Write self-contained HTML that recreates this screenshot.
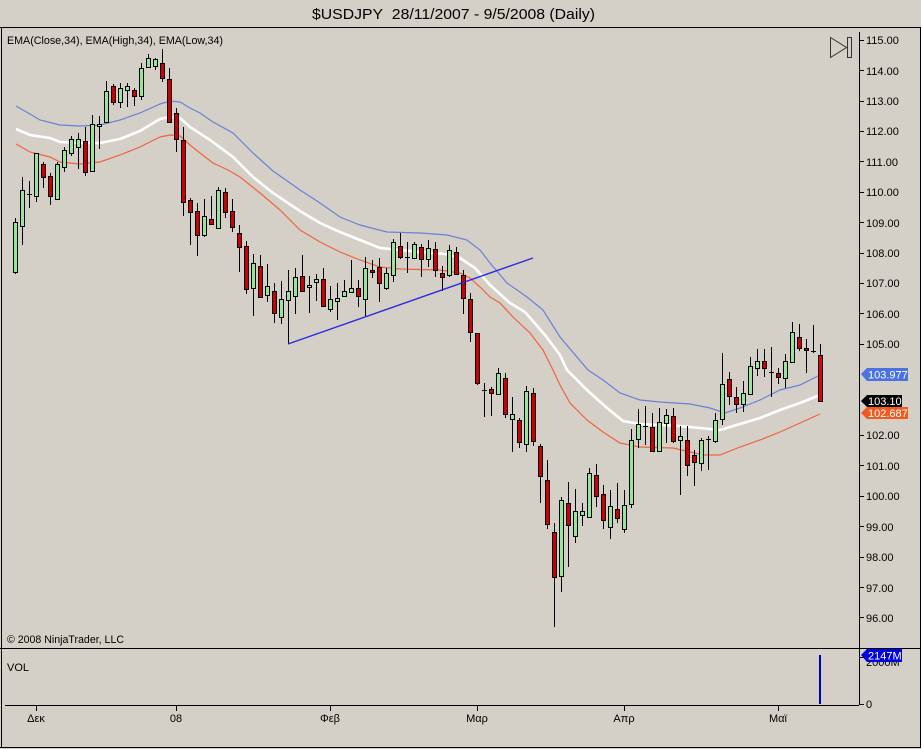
<!DOCTYPE html>
<html><head><meta charset="utf-8"><style>
html,body{margin:0;padding:0;background:#d4d0c8;}
svg{display:block;}
text{font-family:"Liberation Sans",Arial,sans-serif;}
</style></head><body>
<svg width="921" height="749" viewBox="0 0 921 749" xmlns="http://www.w3.org/2000/svg">
<rect x="0" y="0" width="921" height="749" fill="#d4d0c8"/>
<text x="312" y="19" font-size="15" fill="#000" textLength="283" lengthAdjust="spacingAndGlyphs">$USDJPY&#160;&#160;28/11/2007 - 9/5/2008 (Daily)</text>
<path d="M0 27.5H921M1.5 27V748M0 747.5H921M920.5 27V748M0 648.5H921" stroke="#000" stroke-width="1" fill="none"/>
<text x="7" y="44" font-size="11" fill="#000" textLength="216" lengthAdjust="spacingAndGlyphs">EMA(Close,34), EMA(High,34), EMA(Low,34)</text>
<text x="7" y="643" font-size="11" fill="#000" textLength="117" lengthAdjust="spacingAndGlyphs">© 2008 NinjaTrader, LLC</text>
<text x="7" y="671" font-size="11" fill="#000">VOL</text>
<path d="M830.5 37.5L846.5 47.5L830.5 57.5Z" fill="none" stroke="#333" stroke-width="1"/>
<rect x="847.5" y="37.5" width="4" height="20" fill="none" stroke="#333" stroke-width="1"/>
<path d="M859.5 32V705" stroke="#000" stroke-width="1"/>
<path stroke="#000" stroke-width="1" d="M859 40.5h5M859 70.5h5M859 101.5h5M859 131.5h5M859 161.5h5M859 192.5h5M859 222.5h5M859 253.5h5M859 283.5h5M859 313.5h5M859 344.5h5M859 435.5h5M859 465.5h5M859 496.5h5M859 526.5h5M859 557.5h5M859 587.5h5M859 617.5h5M859 704.5h5M859 657.5h5"/>
<g font-size="11" fill="#000">
<text x="866" y="44">115.00</text>
<text x="866" y="75">114.00</text>
<text x="866" y="105">113.00</text>
<text x="866" y="135">112.00</text>
<text x="866" y="166">111.00</text>
<text x="866" y="196">110.00</text>
<text x="866" y="227">109.00</text>
<text x="866" y="257">108.00</text>
<text x="866" y="287">107.00</text>
<text x="866" y="318">106.00</text>
<text x="866" y="348">105.00</text>
<text x="866" y="439">102.00</text>
<text x="866" y="470">101.00</text>
<text x="866" y="500">100.00</text>
<text x="866" y="531">99.00</text>
<text x="866" y="561">98.00</text>
<text x="866" y="592">97.00</text>
<text x="866" y="622">96.00</text>
<text x="866" y="708">0</text>
<text x="866" y="666">2000M</text>
</g>
<path d="M5 705.5H859M36.5 705V711M176.5 705V711M330.5 705V711M477.5 705V711M624.5 705V711M778.5 705V711" stroke="#000" stroke-width="1"/>
<g font-size="11" fill="#000" text-anchor="middle">
<text x="36" y="722">Δεκ</text>
<text x="176" y="722">08</text>
<text x="330" y="722">Φεβ</text>
<text x="477" y="722">Μαρ</text>
<text x="624" y="722">Απρ</text>
<text x="778" y="722">Μαϊ</text>
</g>
<rect x="819" y="655" width="2" height="49" fill="#0000c0"/>
<polyline fill="none" stroke="#6a80d8" stroke-width="1.2" points="16,106 30,114 40,120 60,125 80,126 100,125 120,120 140,113 160,104 170,101 180,102 190,108 200,113 213,122 233,133 253,153 273,171 300,190 320,203 340,217 360,225 387,232 420,233 447,235 467,240 480,250 490,263 507,283 527,297 543,310 560,337 588,370 603,380 620,393 640,400 660,402 690,404 710,408 725,413 740,408 760,400 780,390 800,385 820,375"/>
<polyline fill="none" stroke="#ffffff" stroke-width="2.6" points="16,129 30,135 50,138 60,142 80,143 100,143 120,139 140,131 160,119 170,117 180,118 190,127 210,140 233,157 253,177 273,193 300,211 320,223 340,232 360,240 380,248 420,252 445,254 460,258 475,268 490,285 510,303 525,312 545,335 560,355 567,370 587,390 607,408 623,421 640,424 680,426 710,429 720,430 740,424 760,418 780,410 800,403 820,395"/>
<polyline fill="none" stroke="#f0643c" stroke-width="1.2" points="16,144 30,152 50,157 60,162 80,164 100,162 120,155 140,147 160,137 170,135 180,136 190,145 200,153 213,163 228,170 240,177 260,193 280,210 300,230 320,242 340,252 360,260 380,267 400,269 440,270 460,273 470,278 480,287 490,297 500,303 513,317 530,333 543,350 553,370 560,385 570,403 587,420 603,432 620,443 640,447 673,448 703,455 720,455 740,447 760,440 780,432 800,423 820,414"/>
<path stroke="#000" stroke-width="1" fill="none" d="M15.5 218V274M22.5 177V245M29.5 181V208M36.5 153V202M43.5 162V188M50.5 173V205M57.5 162V199M64.5 147V172M71.5 136V156M78.5 133V169M85.5 127V176M92.5 115V171M99.5 116V149M106.5 81V122M113.5 84V105M120.5 83V108M127.5 83V107M134.5 88V106M141.5 63V100M148.5 54V67M155.5 58V70M162.5 49V82M169.5 68V122M176.5 108V152M183.5 127V216M190.5 198V245M197.5 203V256M204.5 199V237M211.5 196V224M218.5 187V228M225.5 188V218M232.5 199V232M239.5 225V272M246.5 241V294M253.5 254V316M260.5 255V297M267.5 264V302M274.5 283V323M281.5 281V324M288.5 270V344M295.5 268V314M302.5 255V291M309.5 276V313M316.5 274V301M323.5 268V306M330.5 286V312M337.5 283V320M344.5 280V297M351.5 260V293M358.5 280V307M365.5 257V316M372.5 260V278M379.5 258V302M386.5 268V290M393.5 239V282M400.5 233V259M407.5 242V273M414.5 242V259M421.5 244V277M428.5 240V267M435.5 242V277M442.5 266V291M449.5 245V277M456.5 247V275M463.5 270V314M470.5 293V342M477.5 333V385M484.5 383V417M491.5 387V416M498.5 368V394M505.5 373V418M512.5 397V452M519.5 418V448M526.5 386V452M533.5 388V446M540.5 444V503M547.5 460V529M554.5 523V627M561.5 497V592M568.5 482V567M575.5 489V543M582.5 503V526M589.5 468V517M596.5 464V507M603.5 485V529M610.5 490V539M617.5 483V523M624.5 490V533M631.5 429V508M638.5 409V448M645.5 406V445M652.5 413V451M659.5 408V451M666.5 409V443M673.5 408V443M680.5 426V495M687.5 426V476M694.5 450V486M701.5 438V471M708.5 436V470M715.5 413V443M722.5 353V425M729.5 372V405M736.5 387V413M743.5 381V412M750.5 357V395M757.5 349V376M764.5 349V377M771.5 347V397M778.5 368V384M785.5 354V388M792.5 322V363M799.5 324V351M806.5 339V373M813.5 325V353M820.5 344V401"/>
<path stroke="#000" stroke-width="1" fill="none" d="M27 194.5h5M405 257.5h5M482 390.5h5M643 426.5h5M706 439.5h5M769 372.5h5M811 351.5h5"/>
<g fill="#96e696" stroke="#000" stroke-width="1">
<rect x="13.5" y="222.5" width="4" height="50"/>
<rect x="20.5" y="190.5" width="4" height="36"/>
<rect x="34.5" y="153.5" width="4" height="43"/>
<rect x="55.5" y="164.5" width="4" height="35"/>
<rect x="62.5" y="150.5" width="4" height="17"/>
<rect x="69.5" y="139.5" width="4" height="14"/>
<rect x="76.5" y="139.5" width="4" height="8"/>
<rect x="90.5" y="124.5" width="4" height="47"/>
<rect x="97.5" y="124.5" width="4" height="2"/>
<rect x="104.5" y="91.5" width="4" height="31"/>
<rect x="118.5" y="88.5" width="4" height="14"/>
<rect x="125.5" y="86.5" width="4" height="4"/>
<rect x="139.5" y="68.5" width="4" height="28"/>
<rect x="146.5" y="58.5" width="4" height="9"/>
<rect x="153.5" y="59.5" width="4" height="7"/>
<rect x="202.5" y="216.5" width="4" height="19"/>
<rect x="216.5" y="190.5" width="4" height="38"/>
<rect x="251.5" y="263.5" width="4" height="25"/>
<rect x="265.5" y="286.5" width="4" height="9"/>
<rect x="279.5" y="299.5" width="4" height="18"/>
<rect x="286.5" y="291.5" width="4" height="9"/>
<rect x="293.5" y="277.5" width="4" height="19"/>
<rect x="307.5" y="285.5" width="4" height="2"/>
<rect x="314.5" y="279.5" width="4" height="3"/>
<rect x="328.5" y="299.5" width="4" height="10"/>
<rect x="335.5" y="298.5" width="4" height="3"/>
<rect x="342.5" y="291.5" width="4" height="5"/>
<rect x="349.5" y="288.5" width="4" height="4"/>
<rect x="363.5" y="268.5" width="4" height="31"/>
<rect x="384.5" y="273.5" width="4" height="15"/>
<rect x="391.5" y="242.5" width="4" height="33"/>
<rect x="412.5" y="244.5" width="4" height="14"/>
<rect x="426.5" y="248.5" width="4" height="11"/>
<rect x="447.5" y="250.5" width="4" height="25"/>
<rect x="496.5" y="373.5" width="4" height="21"/>
<rect x="510.5" y="414.5" width="4" height="5"/>
<rect x="524.5" y="391.5" width="4" height="53"/>
<rect x="559.5" y="500.5" width="4" height="76"/>
<rect x="573.5" y="511.5" width="4" height="25"/>
<rect x="580.5" y="511.5" width="4" height="4"/>
<rect x="587.5" y="473.5" width="4" height="44"/>
<rect x="608.5" y="506.5" width="4" height="21"/>
<rect x="622.5" y="505.5" width="4" height="24"/>
<rect x="629.5" y="440.5" width="4" height="64"/>
<rect x="636.5" y="424.5" width="4" height="15"/>
<rect x="657.5" y="422.5" width="4" height="29"/>
<rect x="664.5" y="415.5" width="4" height="8"/>
<rect x="678.5" y="436.5" width="4" height="4"/>
<rect x="699.5" y="440.5" width="4" height="23"/>
<rect x="713.5" y="420.5" width="4" height="21"/>
<rect x="720.5" y="384.5" width="4" height="35"/>
<rect x="741.5" y="393.5" width="4" height="11"/>
<rect x="748.5" y="366.5" width="4" height="28"/>
<rect x="755.5" y="361.5" width="4" height="7"/>
<rect x="783.5" y="361.5" width="4" height="17"/>
<rect x="790.5" y="332.5" width="4" height="30"/>
</g>
<g fill="#cc0000" stroke="#000" stroke-width="1">
<rect x="41.5" y="164.5" width="4" height="13"/>
<rect x="48.5" y="176.5" width="4" height="20"/>
<rect x="83.5" y="141.5" width="4" height="31"/>
<rect x="111.5" y="86.5" width="4" height="16"/>
<rect x="132.5" y="90.5" width="4" height="6"/>
<rect x="160.5" y="63.5" width="4" height="15"/>
<rect x="167.5" y="79.5" width="4" height="43"/>
<rect x="174.5" y="113.5" width="4" height="26"/>
<rect x="181.5" y="140.5" width="4" height="62"/>
<rect x="188.5" y="200.5" width="4" height="12"/>
<rect x="195.5" y="211.5" width="4" height="24"/>
<rect x="209.5" y="219.5" width="4" height="5"/>
<rect x="223.5" y="192.5" width="4" height="20"/>
<rect x="230.5" y="211.5" width="4" height="16"/>
<rect x="237.5" y="233.5" width="4" height="14"/>
<rect x="244.5" y="246.5" width="4" height="43"/>
<rect x="258.5" y="266.5" width="4" height="31"/>
<rect x="272.5" y="291.5" width="4" height="22"/>
<rect x="300.5" y="276.5" width="4" height="15"/>
<rect x="321.5" y="279.5" width="4" height="27"/>
<rect x="356.5" y="288.5" width="4" height="8"/>
<rect x="370.5" y="270.5" width="4" height="2"/>
<rect x="377.5" y="267.5" width="4" height="16"/>
<rect x="398.5" y="246.5" width="4" height="11"/>
<rect x="419.5" y="247.5" width="4" height="12"/>
<rect x="433.5" y="249.5" width="4" height="21"/>
<rect x="440.5" y="273.5" width="4" height="4"/>
<rect x="454.5" y="252.5" width="4" height="22"/>
<rect x="461.5" y="275.5" width="4" height="23"/>
<rect x="468.5" y="299.5" width="4" height="33"/>
<rect x="475.5" y="333.5" width="4" height="50"/>
<rect x="489.5" y="389.5" width="4" height="4"/>
<rect x="503.5" y="378.5" width="4" height="36"/>
<rect x="517.5" y="420.5" width="4" height="22"/>
<rect x="531.5" y="393.5" width="4" height="48"/>
<rect x="538.5" y="446.5" width="4" height="30"/>
<rect x="545.5" y="480.5" width="4" height="44"/>
<rect x="552.5" y="532.5" width="4" height="45"/>
<rect x="566.5" y="503.5" width="4" height="22"/>
<rect x="594.5" y="475.5" width="4" height="21"/>
<rect x="601.5" y="494.5" width="4" height="26"/>
<rect x="615.5" y="509.5" width="4" height="9"/>
<rect x="650.5" y="427.5" width="4" height="24"/>
<rect x="671.5" y="416.5" width="4" height="25"/>
<rect x="685.5" y="440.5" width="4" height="25"/>
<rect x="692.5" y="455.5" width="4" height="7"/>
<rect x="727.5" y="379.5" width="4" height="17"/>
<rect x="734.5" y="397.5" width="4" height="7"/>
<rect x="762.5" y="361.5" width="4" height="7"/>
<rect x="776.5" y="373.5" width="4" height="4"/>
<rect x="797.5" y="337.5" width="4" height="11"/>
<rect x="804.5" y="348.5" width="4" height="2"/>
<rect x="818.5" y="355.5" width="4" height="46" fill="#e80000"/>
</g>
<line x1="288" y1="344" x2="533" y2="258" stroke="#2a2ae0" stroke-width="1.4"/>
<polygon points="861,374 867,368 908,368 908,381 867,381" fill="#4a72e0"/>
<text x="868" y="378.5" font-size="11" fill="#fff">103.977</text>
<polygon points="861,401 867,395 902,395 902,407 867,407" fill="#000"/>
<text x="868" y="405" font-size="11" fill="#fff">103.10</text>
<polygon points="861,413 867,407 908,407 908,419 867,419" fill="#f05a1e"/>
<text x="868" y="417" font-size="11" fill="#fff">102.687</text>
<polygon points="861,655 867,649 902,649 902,662 867,662" fill="#0000e0"/>
<text x="868" y="659.5" font-size="11" fill="#fff">2147M</text>
</svg>
</body></html>
